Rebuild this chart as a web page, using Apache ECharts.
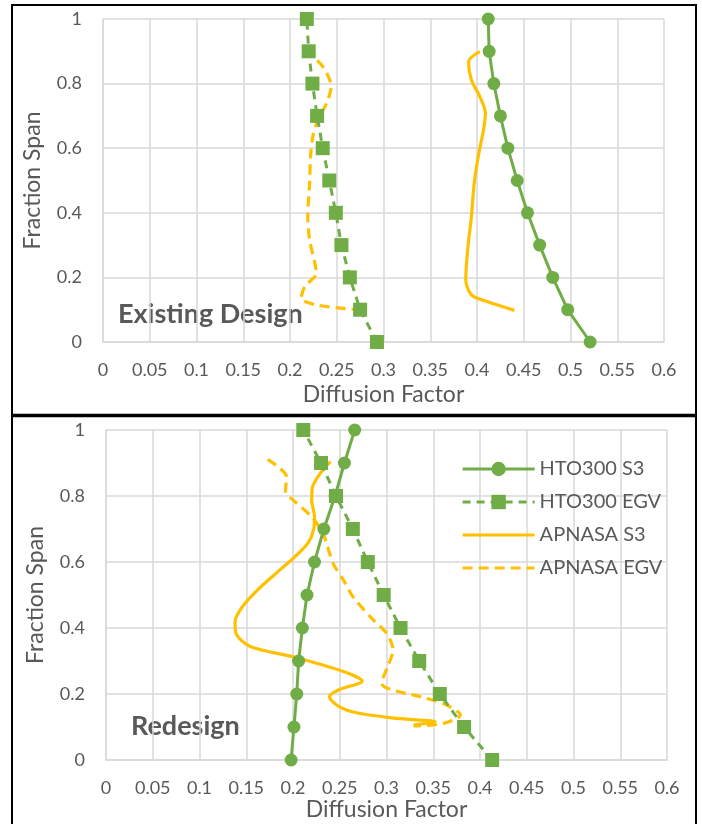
<!DOCTYPE html>
<html>
<head>
<meta charset="utf-8">
<title>Diffusion Factor</title>
<script src="https://cdn.jsdelivr.net/npm/echarts@6/dist/echarts.min.js"></script>
<style>
  html, body { margin: 0; padding: 0; background: #fff; }
  #main { width: 702px; height: 824px; }
</style>
</head>
<body>
<div id="main"></div>
<script>
// series names (legend)
var seriesNames = ['HTO300 S3', 'HTO300 EGV', 'APNASA S3', 'APNASA EGV'];

// fraction span stations for the HTO300 curves
var span = [0, 0.1, 0.2, 0.3, 0.4, 0.5, 0.6, 0.7, 0.8, 0.9, 1];

// ---- Existing Design (top) ----
var existHtoS3 = [0.521, 0.497, 0.481, 0.467, 0.454, 0.443, 0.433, 0.425, 0.418, 0.413, 0.412];
var existHtoEgv = [0.293, 0.275, 0.264, 0.255, 0.249, 0.242, 0.235, 0.229, 0.224, 0.220, 0.218];
// APNASA curves: [diffusion factor, fraction span]
var existApS3 = [
  [0.403, 0.899], [0.391, 0.868], [0.394, 0.811], [0.403, 0.760], [0.409, 0.708],
  [0.407, 0.657], [0.402, 0.585], [0.397, 0.492], [0.394, 0.388], [0.390, 0.285],
  [0.388, 0.193], [0.394, 0.146], [0.410, 0.126], [0.440, 0.098]
];
var existApEgv = [
  [0.216, 0.904], [0.235, 0.853], [0.244, 0.790], [0.239, 0.739], [0.230, 0.688],
  [0.225, 0.646], [0.222, 0.574], [0.221, 0.492], [0.219, 0.388], [0.221, 0.316],
  [0.228, 0.213], [0.216, 0.172], [0.212, 0.136], [0.228, 0.115], [0.271, 0.100]
];

// ---- Redesign (bottom) ----
var reHtoS3 = [0.198, 0.201, 0.204, 0.206, 0.210, 0.215, 0.223, 0.233, 0.245, 0.255, 0.266];
var reHtoEgv = [0.413, 0.383, 0.357, 0.335, 0.315, 0.297, 0.280, 0.264, 0.246, 0.230, 0.211];
var reApS3 = [
  [0.240, 0.904], [0.229, 0.868], [0.221, 0.828], [0.220, 0.788], [0.223, 0.737],
  [0.222, 0.697], [0.216, 0.657], [0.202, 0.616], [0.186, 0.576], [0.162, 0.515],
  [0.146, 0.465], [0.138, 0.419], [0.139, 0.384], [0.155, 0.343], [0.200, 0.313],
  [0.254, 0.268], [0.274, 0.239], [0.250, 0.214], [0.239, 0.192], [0.248, 0.164],
  [0.268, 0.143], [0.311, 0.126], [0.352, 0.116], [0.329, 0.106]
];
var reApEgv = [
  [0.173, 0.911], [0.186, 0.884], [0.193, 0.859], [0.192, 0.813], [0.200, 0.788],
  [0.220, 0.737], [0.232, 0.687], [0.243, 0.595], [0.254, 0.545], [0.264, 0.495],
  [0.286, 0.424], [0.300, 0.384], [0.307, 0.333], [0.302, 0.288], [0.295, 0.232],
  [0.304, 0.214], [0.336, 0.192], [0.364, 0.167], [0.379, 0.136], [0.361, 0.111],
  [0.329, 0.103]
];

var green = '#70AD47';
var yellow = '#FFC000';
var gridColor = '#D9D9D9';
var textColor = '#595959';
var font = 'Lato';

function pairs(xs, ys) {
  var out = [];
  for (var i = 0; i < xs.length; i++) {
    out.push([xs[i], ys[i]]);
  }
  return out;
}

function xAxisFor(idx, gap) {
  return {
    gridIndex: idx,
    type: 'value',
    min: 0,
    max: 0.6,
    interval: 0.05,
    name: 'Diffusion Factor',
    nameLocation: 'middle',
    nameGap: gap,
    nameTextStyle: { fontFamily: font, fontSize: 23, color: textColor },
    axisLine: { show: true, lineStyle: { color: gridColor, width: 1.5 } },
    axisTick: { show: false },
    axisLabel: { margin: 19, fontFamily: font, fontSize: 18, color: textColor },
    splitLine: { show: true, lineStyle: { color: gridColor, width: 1.5 } }
  };
}

function yAxisFor(idx) {
  return {
    gridIndex: idx,
    type: 'value',
    min: 0,
    max: 1,
    interval: 0.2,
    name: 'Fraction Span',
    nameLocation: 'middle',
    nameGap: 59,
    nameTextStyle: { fontFamily: font, fontSize: 23, color: textColor },
    axisLine: { show: true, lineStyle: { color: gridColor, width: 1.5 } },
    axisTick: { show: false },
    axisLabel: { margin: 21, fontFamily: font, fontSize: 18, color: textColor },
    splitLine: { show: true, lineStyle: { color: gridColor, width: 1.5 } }
  };
}

function htoS3(idx, data) {
  return {
    name: seriesNames[0], type: 'line', xAxisIndex: idx, yAxisIndex: idx,
    data: data, symbol: 'circle', symbolSize: 13,
    itemStyle: { color: green },
    lineStyle: { color: green, width: 3 },
    z: 4
  };
}
function htoEgv(idx, data) {
  return {
    name: seriesNames[1], type: 'line', xAxisIndex: idx, yAxisIndex: idx,
    data: data, symbol: 'rect', symbolSize: 14,
    itemStyle: { color: green },
    lineStyle: { color: green, width: 3, type: [8, 6] },
    z: 4
  };
}
function apS3(idx, data) {
  return {
    name: seriesNames[2], type: 'line', xAxisIndex: idx, yAxisIndex: idx,
    data: data, symbol: 'none', smooth: 0.3,
    itemStyle: { color: yellow },
    lineStyle: { color: yellow, width: 3.2 },
    z: 3
  };
}
function apEgv(idx, data) {
  return {
    name: seriesNames[3], type: 'line', xAxisIndex: idx, yAxisIndex: idx,
    data: data, symbol: 'none', smooth: 0.3,
    itemStyle: { color: yellow },
    lineStyle: { color: yellow, width: 3.2, type: [10, 6] },
    z: 3
  };
}

var myChart = echarts.init(document.getElementById('main'));
myChart.setOption({
  animation: false,
  grid: [
    { left: 103, right: 38, top: 19, height: 323 },
    { left: 106, right: 35, top: 430, height: 330 }
  ],
  xAxis: [xAxisFor(0, 41), xAxisFor(1, 36)],
  yAxis: [yAxisFor(0), yAxisFor(1)],
  legend: {
    data: [
      seriesNames[0],
      seriesNames[1],
      // the yellow curves have no markers, so hide the legend symbol too
      { name: seriesNames[2], itemStyle: { opacity: 0 } },
      { name: seriesNames[3], itemStyle: { opacity: 0 } }
    ],
    orient: 'vertical',
    left: 456,
    top: 454,
    itemWidth: 72,
    itemHeight: 18,
    itemGap: 13,
    lineStyle: { width: 3.2 },
    textStyle: { fontFamily: font, fontSize: 20, color: textColor }
  },
  graphic: [
    {
      type: 'rect',
      shape: { x: 12, y: 5, width: 684, height: 830 },
      style: { fill: 'none', stroke: '#000', lineWidth: 2 },
      silent: true
    },
    {
      type: 'line',
      shape: { x1: 12, y1: 415.5, x2: 696, y2: 415.5 },
      style: { stroke: '#000', lineWidth: 3.5 },
      silent: true
    },
    {
      type: 'text', left: 118, top: 301,
      style: { text: 'Existing Design', font: 'bold 27px Lato', fill: textColor }
    },
    {
      type: 'text', left: 131, top: 713,
      style: { text: 'Redesign', font: 'bold 27px Lato', fill: textColor }
    }
  ],
  series: [
    htoS3(0, pairs(existHtoS3, span)),
    htoEgv(0, pairs(existHtoEgv, span)),
    apS3(0, existApS3),
    apEgv(0, existApEgv),
    htoS3(1, pairs(reHtoS3, span)),
    htoEgv(1, pairs(reHtoEgv, span)),
    apS3(1, reApS3),
    apEgv(1, reApEgv)
  ]
});
</script>
</body>
</html>
